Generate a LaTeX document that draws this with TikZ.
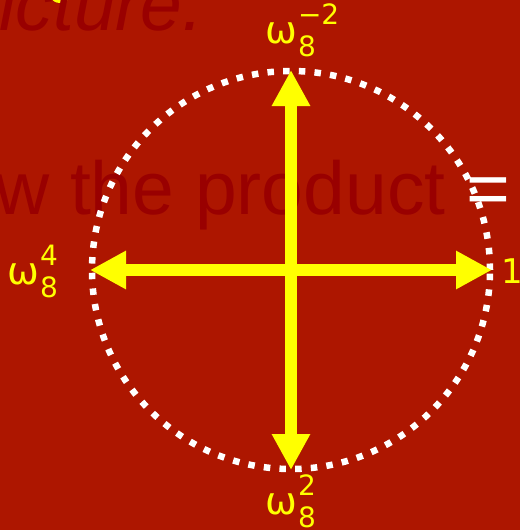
\documentclass[tikz,border=0pt]{standalone}
\usepackage{fontspec}
\usetikzlibrary{arrows.meta}
\newfontfamily\arialf{Liberation Sans}
\newfontfamily\dejav{DejaVu Sans}
\definecolor{bgred}{HTML}{AD1600}
\definecolor{txtred}{HTML}{990000}
\definecolor{ylw}{HTML}{FFFF00}
\newcommand{\omlab}[2]{{\fontsize{38}{38}\selectfont\dejav ω}\kern1pt\rlap{\raisebox{19pt}{\fontsize{28}{28}\selectfont\dejav #1}}\raisebox{-13pt}{\fontsize{28}{28}\selectfont\dejav #2}}
\tikzset{
  bgtext/.style={inner sep=0pt, anchor=base west, text=txtred, font=\arialf\fontsize{75}{75}\selectfont},
  lab/.style={inner sep=0pt, anchor=base west, text=ylw},
  ray/.style={draw=ylw, line width=12pt, -{Triangle[length=36pt,width=36pt]}},
  dotring/.style={draw=white, line width=6.5pt, dash pattern=on 6.5pt off 9.2pt}
}
\begin{document}
\begin{tikzpicture}[x=1pt,y=-1pt]
\fill[bgred] (0,0) rectangle (520,530);
\useasboundingbox (0,0) rectangle (520,530);
\fill[ylw] (60,-2) ellipse [x radius=8pt, y radius=5pt];
\node[bgtext, font=\arialf\itshape\fontsize{75}{75}\selectfont] (t1) at (-1,30) {icture.};
\node[bgtext] (t2) at (-5,214) {w the product {\color{white}=}};
\coordinate (c) at (291,270);
\draw[dotring] (c) circle [radius=199pt];
\coordinate (up) at (291,70);
\coordinate (dn) at (291,470);
\coordinate (lf) at (90,270);
\coordinate (rt) at (492,270);
\draw[ray] (c) -- (up);
\draw[ray] (c) -- (dn);
\draw[ray] (c) -- (lf);
\draw[ray] (c) -- (rt);
\node[lab] (ltop) at (265,43) {\omlab{−2}{8}};
\node[lab] (lbot) at (265,514) {\omlab{2}{8}};
\node[lab] (lleft) at (7,284) {\omlab{4}{8}};
\node[lab, font=\dejav\fontsize{34}{34}\selectfont] (lright) at (501,283) {1};
\end{tikzpicture}
\end{document}
